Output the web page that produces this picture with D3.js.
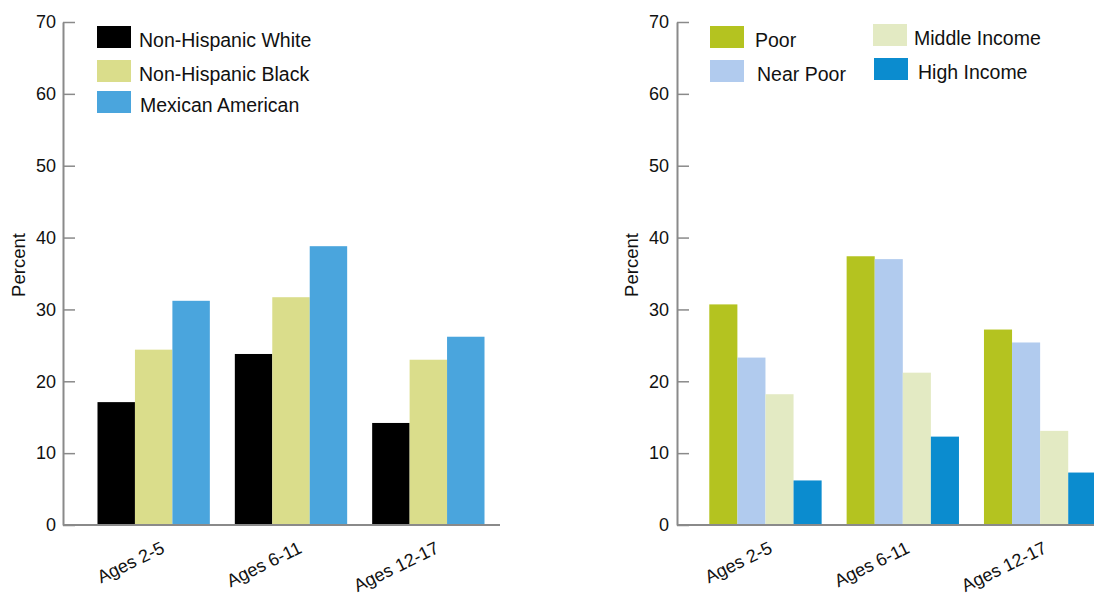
<!DOCTYPE html>
<html>
<head>
<meta charset="utf-8">
<script src="https://cdn.jsdelivr.net/npm/d3@7"></script>
<style>
body{margin:0;background:#fff;}
text{font-family:"Liberation Sans",Arial,Helvetica,sans-serif;fill:#111;}
</style>
</head>
<body>
<svg id="chart" width="1094" height="595"></svg>
<script>
const categories = ["Ages 2-5", "Ages 6-11", "Ages 12-17"];
const yTicks = [0, 10, 20, 30, 40, 50, 60, 70];

const raceSeries = ["Non-Hispanic White", "Non-Hispanic Black", "Mexican American"];
const raceColors = ["#000000", "#dadd8b", "#4aa5dd"];
const nhWhite = [17.1, 23.8, 14.2];
const nhBlack = [24.4, 31.7, 23.0];
const mexAmerican = [31.2, 38.8, 26.2];

const incomeSeries = ["Poor", "Near Poor", "Middle Income", "High Income"];
const incomeColors = ["#b4c320", "#b1cbee", "#e3eac3", "#0b8ccf"];
const poor = [30.7, 37.4, 27.2];
const nearPoor = [23.3, 37.0, 25.4];
const middleIncome = [18.2, 21.2, 13.1];
const highIncome = [6.2, 12.3, 7.3];

const svg = d3.select("#chart");

function panel(opts) {
  const g = svg.append("g");
  const y = d3.scaleLinear().domain([0, 70]).range([525, 22]);
  const x0 = d3.scaleBand().domain(categories).range(opts.xr).paddingInner(0.182).paddingOuter(0.091);
  const x1 = d3.scaleBand().domain(opts.series).range([0, x0.bandwidth()]);
  const color = d3.scaleOrdinal().domain(opts.series).range(opts.colors);

  // bars
  const rows = [];
  categories.forEach((c, i) => opts.values.forEach((arr, s) => rows.push({cat: c, ser: opts.series[s], v: arr[i]})));
  g.selectAll("rect.bar").data(rows).enter().append("rect")
    .attr("class", "bar")
    .attr("x", d => x0(d.cat) + x1(d.ser))
    .attr("y", d => y(d.v))
    .attr("width", x1.bandwidth())
    .attr("height", d => y(0) - y(d.v))
    .attr("fill", d => color(d.ser));

  // x baseline
  g.append("line").attr("x1", opts.axisX).attr("x2", opts.xEnd).attr("y1", y(0)).attr("y2", y(0))
    .attr("stroke", "#8a8a8a").attr("stroke-width", 2);

  // y axis
  const ya = g.append("g").attr("transform", `translate(${opts.axisX},0)`)
    .call(d3.axisLeft(y).tickValues(yTicks).tickSize(-12).tickSizeOuter(0).tickPadding(opts.tickPad));
  ya.select(".domain").attr("stroke", "#8a8a8a").attr("stroke-width", 2);
  ya.selectAll(".tick line").attr("stroke", "#8a8a8a").attr("stroke-width", 1.5);
  ya.selectAll(".tick text").style("font-size", "18px").attr("fill", "#111").style("font-family", "'Liberation Sans',Arial,sans-serif");

  // y label
  g.append("text").attr("transform", `translate(${opts.labelX},265) rotate(-90)`)
    .attr("text-anchor", "middle").style("font-size", "18.5px").text("Percent");

  // x labels
  g.selectAll("text.xl").data(categories).enter().append("text")
    .attr("class", "xl")
    .attr("text-anchor", "end")
    .style("font-size", "18px")
    .attr("transform", d => `translate(${x0(d) + x0.bandwidth() / 2 + opts.xlOff},552) rotate(-26)`)
    .text(d => d);

  // legend
  opts.legend.forEach((L, i) => {
    g.append("rect").attr("x", L.x).attr("y", L.y).attr("width", 34).attr("height", 22)
      .attr("fill", color(opts.series[i]));
    g.append("text").attr("x", L.tx).attr("y", L.y + 21).style("font-size", "19.5px").text(opts.series[i]);
  });
}

panel({
  series: raceSeries, colors: raceColors, values: [nhWhite, nhBlack, mexAmerican],
  xr: [85, 497], axisX: 63, xEnd: 500, tickPad: 7, labelX: 25, xlOff: 12,
  legend: [{x: 97, y: 26, tx: 139}, {x: 97, y: 60, tx: 139}, {x: 97, y: 91, tx: 140}]
});

panel({
  series: incomeSeries, colors: incomeColors, values: [poor, nearPoor, middleIncome, highIncome],
  xr: [696.8, 1108.8], axisX: 677, xEnd: 1094, tickPad: 8, labelX: 638, xlOff: 8,
  legend: [{x: 710, y: 26, tx: 755}, {x: 710, y: 60, tx: 757}, {x: 873, y: 24, tx: 914}, {x: 874, y: 58, tx: 918}]
});
</script>
</body>
</html>
